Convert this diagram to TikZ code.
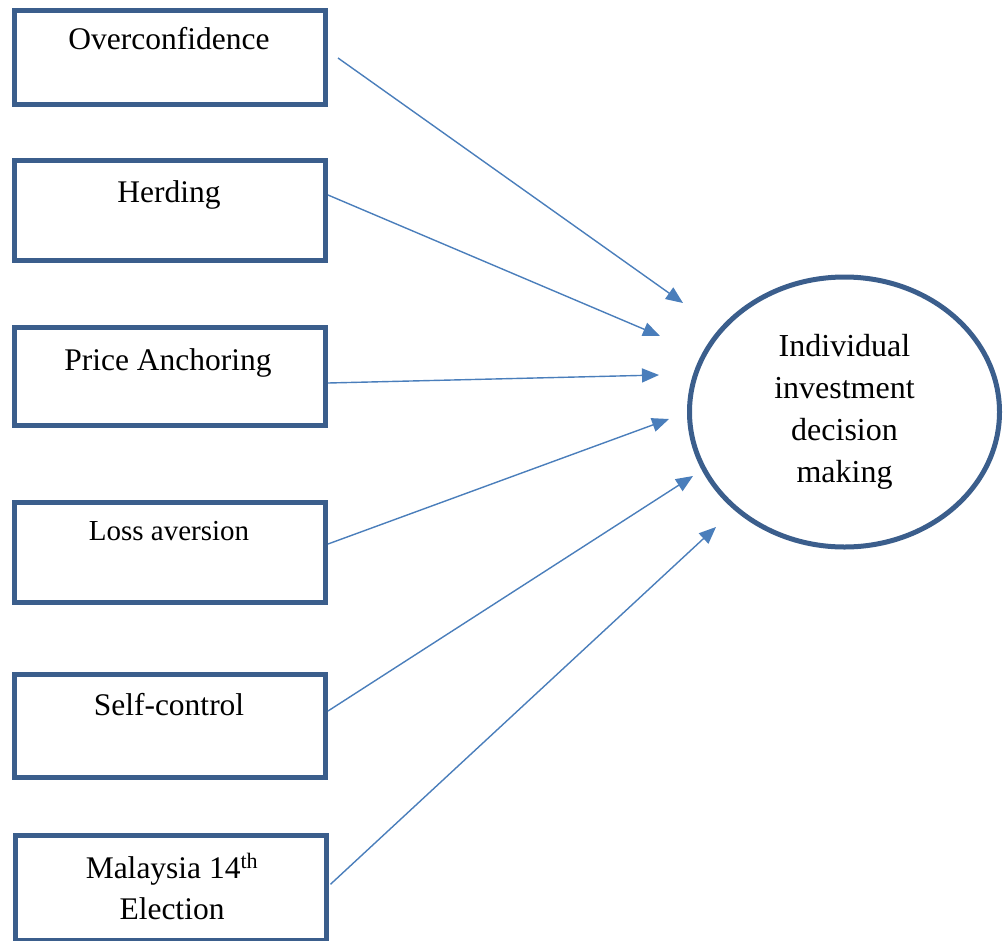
\documentclass[tikz,border=0pt]{standalone}
\usepackage{fontspec}
\setmainfont{Liberation Serif}
\usetikzlibrary{shapes.geometric, arrows.meta}

\definecolor{boxblue}{HTML}{3B5E8C}
\definecolor{arrowblue}{HTML}{4A7EBB}

\tikzset{
    factor/.style={draw=boxblue, line width=5pt, minimum width=311pt, inner sep=0pt},
    lbl/.style={anchor=base, inner sep=0pt, font=\fontsize{31.5}{41}\selectfont},
    outcome/.style={ellipse, draw=boxblue, line width=5pt, minimum width=310pt, minimum height=270pt, inner sep=0pt, align=center, font=\fontsize{32}{42}\selectfont},
    link/.style={draw=arrowblue, line width=1.4pt, -{Triangle[length=17pt, width=14pt]}}
}

\begin{document}
\begin{tikzpicture}[x=1pt, y=-1pt]
    \useasboundingbox (0,0) rectangle (1004,940);
    % boxes on the left
    \node[factor, minimum height=94pt] (ov) at (170,57) {};
    \node[factor, minimum height=100pt] (hd) at (170,210.5) {};
    \node[factor, minimum height=98pt] (pa) at (170,376.5) {};
    \node[factor, minimum height=100pt] (la) at (170,552.5) {};
    \node[factor, minimum height=103pt] (sc) at (170,726) {};
    \node[factor, minimum height=104.5pt] (me) at (170.5,887.75) {};
    \node[lbl] (ovt) at (169,49) {Overconfidence};
    \node[lbl] (hdt) at (169,202) {Herding};
    \node[lbl] (pat) at (168,370) {Price Anchoring};
    \node[lbl, font=\fontsize{29}{41}\selectfont] (lat) at (169,540) {Loss aversion};
    \node[lbl] (sct) at (169,715) {Self-control};
    \node[lbl, align=center] (met) at (172,919) {Malaysia 14\textsuperscript{th}\\Election};
    % outcome
    \node[outcome] (idm) at (844.5,412) {Individual\\investment\\decision\\making};
    % arrow tips
    \coordinate (t1) at (683,303);
    \coordinate (t2) at (660,336);
    \coordinate (t3) at (659,375);
    \coordinate (t4) at (669,419);
    \coordinate (t5) at (693,476);
    \coordinate (t6) at (716,527);
    \draw[link] ([xshift=10pt, yshift=-1pt]ov.east) -- (t1);
    \draw[link] ([yshift=15.5pt]hd.east) -- (t2);
    \draw[link] ([yshift=-6.5pt]pa.east) -- (t3);
    \draw[link] ([yshift=8.5pt]la.east) -- (t4);
    \draw[link] ([yshift=15pt]sc.east) -- (t5);
    \draw[link] ([xshift=2pt, yshift=3.5pt]me.east) -- (t6);
\end{tikzpicture}
\end{document}
